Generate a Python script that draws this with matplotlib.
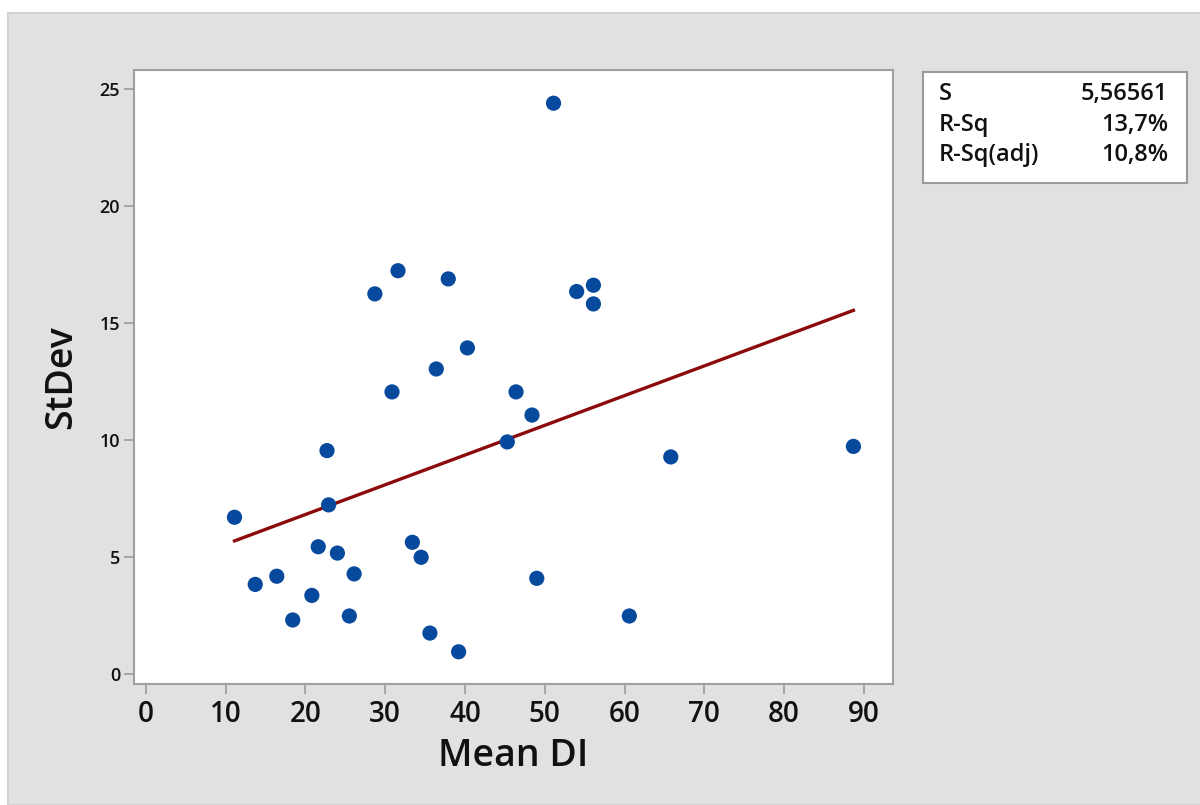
import matplotlib
matplotlib.use("Agg")
import matplotlib.pyplot as plt
from matplotlib.patches import Rectangle
import numpy as np

plt.rcParams['font.family'] = ['Open Sans', 'DejaVu Sans']
plt.rcParams['font.weight'] = 'semibold'
plt.rcParams['axes.labelweight'] = 'semibold'

# Data
mean_di = [11.1, 13.7, 16.4, 18.4, 20.8, 21.6, 22.7, 22.9, 24.0, 25.5,
           26.1, 28.7, 30.85, 31.6, 33.4, 34.5, 35.6, 36.4, 37.9, 39.2,
           40.3, 45.3, 46.4, 48.4, 49.0, 51.1, 54.0, 56.1, 56.1, 60.6,
           65.8, 88.7]
stdev = [6.70, 3.83, 4.18, 2.31, 3.36, 5.44, 9.55, 7.23, 5.17, 2.48,
         4.28, 16.25, 12.06, 17.24, 5.63, 4.99, 1.75, 13.04, 16.89, 0.95,
         13.94, 9.92, 12.06, 11.07, 4.09, 24.40, 16.35, 16.62, 15.82, 2.48,
         9.28, 9.73]

fit_intercept = 4.28
fit_slope = 0.127

stat_names = ["S", "R-Sq", "R-Sq(adj)"]
stat_values = ["5,56561", "13,7%", "10,8%"]

xticks = [0, 10, 20, 30, 40, 50, 60, 70, 80, 90]
yticks = [0, 5, 10, 15, 20, 25]

W, H = 1200, 805
fig = plt.figure(figsize=(12, 8.05), dpi=100)
fig.patch.set_facecolor('white')

# gray panel background
fig.patches.append(Rectangle((8 / W, 0), 1 - 8 / W + 0.01, 1 - 13 / H,
                             transform=fig.transFigure, facecolor='#e1e1e1',
                             edgecolor='#d2d2d2', linewidth=1.5, zorder=-10))

ax = fig.add_axes([134 / W, 1 - 684.3 / H, (893.3 - 134) / W, (684.3 - 70) / H])
ax.set_facecolor('white')

xs = np.array([min(mean_di), max(mean_di)])
ax.plot(xs, fit_intercept + fit_slope * xs, color='#8b0a0a', linewidth=2.4, zorder=2)
ax.scatter(mean_di, stdev, s=120, color='#074a9d', edgecolors='none', zorder=3)

ax.set_xlim(-1.5, 93.7)
ax.set_ylim(-0.44, 25.82)
ax.set_xticks(xticks)
ax.set_yticks(yticks)
ax.tick_params(axis='x', labelsize=20, length=7, width=1.3, color='#a0a0a0',
               pad=4, labelcolor='#111111')
ax.tick_params(axis='y', labelsize=13, length=7, width=1.3, color='#a0a0a0',
               pad=3, labelcolor='#111111')
for sp in ax.spines.values():
    sp.set_color('#a0a0a0')
    sp.set_linewidth(1.5)

ax.set_xlabel("Mean DI", fontsize=27, color='#111111', labelpad=6,
              fontweight='semibold')
ax.set_ylabel("StDev", fontsize=27, color='#111111', labelpad=14,
              fontweight='semibold')

# statistics box
fig.patches.append(Rectangle((922.7 / W, 1 - 183.3 / H), (1187 - 922.7) / W,
                             (183.3 - 72.3) / H, transform=fig.transFigure,
                             facecolor='white', edgecolor='#9a9a9a', linewidth=1.5,
                             zorder=1))
row_y = [94, 125, 155]
for name, val, yy in zip(stat_names, stat_values, row_y):
    fig.text(939 / W, 1 - yy / H, name, fontsize=17, ha='left', va='center',
             color='#111111', zorder=5)
    fig.text(1168 / W, 1 - yy / H, val, fontsize=17, ha='right', va='center',
             color='#111111', zorder=5)

fig.savefig("out.png", dpi=100, facecolor=fig.get_facecolor())
